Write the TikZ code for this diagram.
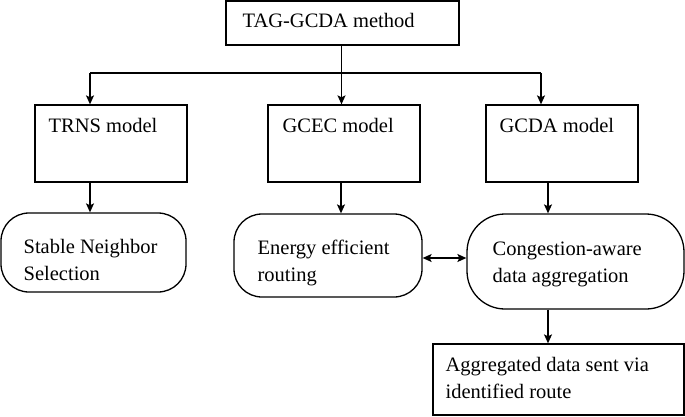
\documentclass[tikz,border=0pt]{standalone}
\usepackage{fontspec}
\setmainfont{Liberation Serif}
\usetikzlibrary{arrows.meta,calc,positioning}
\tikzset{%
	squarebox/.style = {draw, rectangle, inner sep=0pt},
	pillbox/.style   = {draw, rectangle, rounded corners=28pt, inner sep=0pt},
	boxtext/.style   = {anchor=north west, inner sep=0pt, align=left, font=\fontsize{20.5}{27}\selectfont},
	arrow/.style     = {-{Stealth[length=9pt,width=8pt,inset=2pt]}},
	twoarrow/.style  = {{Stealth[length=9pt,width=8pt,inset=2pt]}-{Stealth[length=9pt,width=8pt,inset=2pt]}},
}
\begin{document}
\begin{tikzpicture}[x=1pt,y=-1pt,line width=1.3pt]
	\useasboundingbox (0,0) rectangle (685,416);
	
	% boxes
	\node[squarebox, minimum width=233pt, minimum height=44pt] (top) at (342.5,23) {};
	\node[squarebox, minimum width=152pt, minimum height=77pt] (trns) at (111,143.5) {};
	\node[squarebox, minimum width=152pt, minimum height=77pt] (gcec) at (344,143.5) {};
	\node[squarebox, minimum width=152pt, minimum height=77pt] (gcda) at (562,143.5) {};
	\node[pillbox, minimum width=185pt, minimum height=79pt] (stable) at (93.5,252.5) {};
	\node[pillbox, minimum width=188pt, minimum height=83pt] (energy) at (328,255.5) {};
	\node[pillbox, rounded corners=38pt, minimum width=217pt, minimum height=95pt] (congest) at (575.5,261.5) {};
	\node[squarebox, minimum width=251pt, minimum height=71pt] (sent) at (558.5,379.5) {};
	
	% texts
	\node[boxtext] (toptxt) at (242,13) {TAG-GCDA method};
	\node[boxtext] (trnstxt) at (48,118) {TRNS model};
	\node[boxtext] (gcectxt) at (282,118) {GCEC model};
	\node[boxtext] (gcdatxt) at (499,118) {GCDA model};
	\node[boxtext] (stabletxt) at (23,239) {Stable Neighbor\\Selection};
	\node[boxtext] (energytxt) at (257,239) {Energy efficient\\routing};
	\node[boxtext] (congesttxt) at (492,241) {Congestion-aware\\data aggregation};
	\node[boxtext] (senttxt) at (445,357) {Aggregated data sent via\\identified route};
	
	% connectors
	\coordinate (busL) at (90,73);
	\coordinate (busM) at (341.5,73);
	\coordinate (busR) at (541,73);
	\draw (busM |- top.south) -- (busM);
	\draw (busL) -- (busR);
	\draw[arrow] (busL) -- (busL |- trns.north);
	\draw[arrow] (busM) -- (busM |- gcec.north);
	\draw[arrow] (busR) -- (busR |- gcda.north);
	
	\coordinate (dropL) at (90,0);
	\coordinate (dropM) at (341,0);
	\coordinate (dropR) at (548,0);
	\draw[arrow] (dropL |- trns.south) -- (dropL |- stable.north);
	\draw[arrow] (dropM |- gcec.south) -- (dropM |- energy.north);
	\draw[arrow] (dropR |- gcda.south) -- (dropR |- congest.north);
	\draw[arrow] (dropR |- congest.south) -- (dropR |- sent.north);
	
	\coordinate (link) at (0,258);
	\draw[twoarrow] (link -| energy.east) -- (link -| congest.west);
\end{tikzpicture}
\end{document}
